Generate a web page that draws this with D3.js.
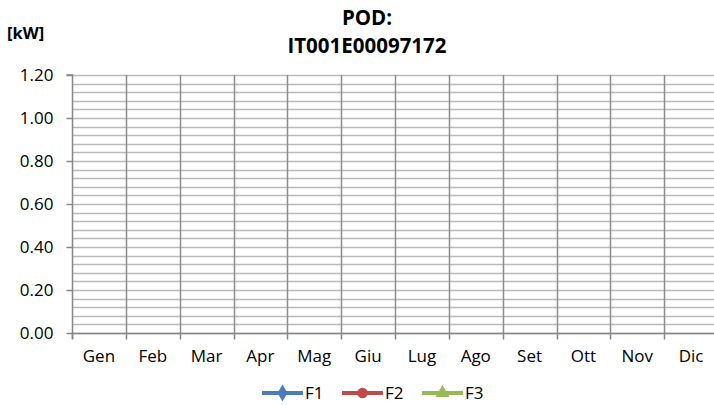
<!DOCTYPE html>
<html lang="it">
<head>
	<meta charset="UTF-8">
	<title>POD IT001E00097172</title>
	<style>
		html, body {
			margin: 0;
			background: #fff;
		}
		svg text {
			font-family: 'Open Sans', 'Noto Sans', sans-serif;
			fill: #000;
		}
	</style>
	<script src="https://d3js.org/d3.v7.min.js"></script>
</head>
<body>
	<svg id="chart"></svg>
	<script>
		// chart data
		const months = ['Gen', 'Feb', 'Mar', 'Apr', 'Mag', 'Giu', 'Lug', 'Ago', 'Set', 'Ott', 'Nov', 'Dic'];
		const f1 = [null, null, null, null, null, null, null, null, null, null, null, null];
		const f2 = [null, null, null, null, null, null, null, null, null, null, null, null];
		const f3 = [null, null, null, null, null, null, null, null, null, null, null, null];
		const yTicks = [0, 0.2, 0.4, 0.6, 0.8, 1.0, 1.2];
		const titleLines = ['POD:', 'IT001E00097172'];
		const unitLabel = '[kW]';

		const series = [
			{ name: 'F1', values: f1, color: '#4a7ebb', marker: d3.symbolDiamond },
			{ name: 'F2', values: f2, color: '#be4b48', marker: d3.symbolCircle },
			{ name: 'F3', values: f3, color: '#98b954', marker: d3.symbolTriangle },
		];

		const width = 714, height = 405;
		const plot = { left: 72, right: 718, top: 75, bottom: 333 };

		const svg = d3.select('#chart').attr('width', width).attr('height', height);

		const x = d3.scaleBand().domain(months).range([plot.left, plot.right]);
		const y = d3.scaleLinear().domain([0, 1.2]).range([plot.bottom, plot.top]);

		// minor horizontal gridlines (every 0.04)
		const minor = d3.range(0, 1.2001, 0.04);
		svg.append('g')
			.selectAll('line')
			.data(minor)
			.join('line')
			.attr('x1', plot.left)
			.attr('x2', plot.right)
			.attr('y1', d => Math.round(y(d)) + 0.5)
			.attr('y2', d => Math.round(y(d)) + 0.5)
			.attr('stroke', '#bababa')
			.attr('stroke-width', 1.6);

		// vertical gridlines at month boundaries
		svg.append('g')
			.selectAll('line')
			.data(months.slice(1).concat(['end']))
			.join('line')
			.attr('x1', (d, i) => Math.round(x(months[0]) + (i + 1) * x.bandwidth()) + 0.5)
			.attr('x2', (d, i) => Math.round(x(months[0]) + (i + 1) * x.bandwidth()) + 0.5)
			.attr('y1', plot.top)
			.attr('y2', plot.bottom)
			.attr('stroke', '#8c8c8c')
			.attr('stroke-width', 1.5);

		// y axis
		const yAxis = svg.append('g')
			.attr('transform', `translate(${plot.left + 0.5},0)`)
			.call(d3.axisLeft(y).tickValues(yTicks).tickFormat(d3.format('.2f')).tickSize(6).tickPadding(13));
		yAxis.select('.domain').attr('stroke', '#868686').attr('stroke-width', 1.5)
			.attr('d', `M-6,${plot.top}H0V${plot.bottom + 6}`);
		yAxis.selectAll('.tick line').attr('stroke', '#868686').attr('stroke-width', 1.5);
		yAxis.selectAll('text').style('font-size', '17px').attr('dy', '0.35em');

		// x axis
		const xAxis = svg.append('g')
			.attr('transform', `translate(0,${plot.bottom + 0.5})`)
			.call(d3.axisBottom(x).tickSize(0).tickPadding(16));
		xAxis.select('.domain').attr('stroke', '#868686').attr('stroke-width', 1.5)
			.attr('d', `M${plot.left},0H${plot.right}`);
		xAxis.selectAll('text').style('font-size', '17px');
		xAxis.append('g')
			.selectAll('line')
			.data(d3.range(months.length + 1))
			.join('line')
			.attr('x1', i => Math.round(plot.left + i * x.bandwidth()) + 0.5)
			.attr('x2', i => Math.round(plot.left + i * x.bandwidth()) + 0.5)
			.attr('y1', 0)
			.attr('y2', 6)
			.attr('stroke', '#868686')
			.attr('stroke-width', 1.5);

		// series (empty in this chart)
		const line = d3.line()
			.defined(d => d.v != null)
			.x(d => x(d.m) + x.bandwidth() / 2)
			.y(d => y(d.v));
		series.forEach(s => {
			const pts = months.map((m, i) => ({ m, v: s.values[i] }));
			svg.append('path')
				.datum(pts)
				.attr('fill', 'none')
				.attr('stroke', s.color)
				.attr('stroke-width', 3)
				.attr('d', line);
			svg.append('g')
				.selectAll('path')
				.data(pts.filter(d => d.v != null))
				.join('path')
				.attr('transform', d => `translate(${x(d.m) + x.bandwidth() / 2},${y(d.v)})`)
				.attr('d', d3.symbol(s.marker, 50))
				.attr('fill', s.color);
		});

		// title
		svg.append('text')
			.attr('x', 367)
			.attr('text-anchor', 'middle')
			.style('font-size', '20.5px')
			.style('font-weight', 700)
			.selectAll('tspan')
			.data(titleLines)
			.join('tspan')
			.attr('x', 367)
			.attr('y', (d, i) => 25 + i * 28)
			.text(d => d);

		// unit label
		svg.append('text')
			.attr('x', 7)
			.attr('y', 39)
			.style('font-size', '16.5px')
			.style('font-weight', 700)
			.text(unitLabel);

		// legend
		const legendX = [262, 342, 422];
		const legendY = 393;
		const legend = svg.append('g')
			.selectAll('g')
			.data(series)
			.join('g')
			.attr('transform', (d, i) => `translate(${legendX[i]},${legendY})`);
		legend.append('line')
			.attr('x1', 0).attr('x2', 41)
			.attr('stroke', d => d.color)
			.attr('stroke-width', 4);
		legend.append('path')
			.attr('transform', 'translate(20.5,0)')
			.attr('d', d => d3.symbol(d.marker, d.marker === d3.symbolCircle ? 90 : 85)())
			.attr('fill', d => d.color);
		legend.append('text')
			.attr('x', 43)
			.attr('dy', '0.35em')
			.style('font-size', '17px')
			.text(d => d.name);
	</script>
</body>
</html>
